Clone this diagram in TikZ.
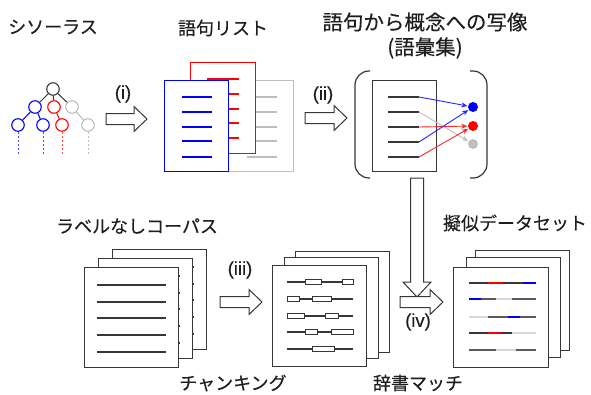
\documentclass[tikz,border=0pt]{standalone}
\usepackage{fontspec}
\setmainfont{Noto Sans CJK JP}[FakeBold=0.2]
\newfontfamily\lat{Liberation Sans}[FakeBold=0.2]
\usetikzlibrary{arrows.meta}
\definecolor{tblue}{RGB}{0,0,255}
\definecolor{tred}{RGB}{255,0,0}
\definecolor{tgray}{RGB}{190,190,190}
\definecolor{dgray}{RGB}{55,55,55}
\definecolor{mgray}{RGB}{90,90,90}
\definecolor{lgray}{RGB}{215,215,215}
\definecolor{txt}{RGB}{30,30,30}
\tikzset{
  lbl/.style={font=\fontsize{18}{22}\selectfont, text=txt, inner sep=0},
  big/.style={font=\fontsize{20.5}{24}\selectfont},
  latl/.style={font=\lat\fontsize{18.5}{22}\selectfont},
  page/.style={draw=dgray, fill=white, line width=1pt},
  txtline/.style={draw=dgray, line width=1.1pt},
  chunk/.style={draw=dgray, fill=white, line width=0.9pt},
  blk/.style={draw=dgray, fill=white, line width=1pt, line join=miter},
  tn/.style={circle, draw, fill=white, line width=1.1pt, minimum size=12.5pt, inner sep=0},
  dot/.style={circle, minimum size=10pt, inner sep=0},
  seg/.style={line width=1.2pt},
  mapar/.style={line width=0.9pt, -{Stealth[length=6pt,width=5pt]}, shorten >=0.5pt},
}
\newcommand\rblk[3]{\draw[blk] (#1,#2-5.5) -- (#1+#3-13,#2-5.5) -- (#1+#3-13,#2-12.5) -- (#1+#3,#2) -- (#1+#3-13,#2+12.5) -- (#1+#3-13,#2+5.5) -- (#1,#2+5.5) -- cycle;}
\newcommand\corpuspage[2]{\begin{scope}[shift={(#1,#2)}]
  \draw[page] (0,0) rectangle (94,100);
  \foreach \yy in {18,35,51,68,85} \draw[txtline] (13,\yy) -- (82,\yy);
\end{scope}}
\newcommand\chunkpage[2]{\begin{scope}[shift={(#1,#2)}]
  \draw[page] (0,0) rectangle (94,101);
  \foreach \yy in {17,34,51,67,84} \draw[txtline] (15,\yy) -- (81,\yy);
  \foreach \yy/\a/\b in {17/33/49, 17/70/81, 34/15/27, 34/40/59, 51/15/32, 51/53/66, 67/33/45, 67/59/81, 84/40/62}
    \draw[chunk] (\a,\yy-2.5) rectangle (\b,\yy+2.5);
\end{scope}}
\begin{document}
\begin{tikzpicture}[x=1pt, y=-1pt]
\useasboundingbox (0,0) rectangle (591,394);
\fill[white] (0,0) rectangle (591,394);

% ---------- titles ----------
\node[lbl, anchor=west] (tthes) at (8,27) {シソーラス};
\node[lbl] (tlist) at (223,28) {語句リスト};
\node[lbl, big] (tmap) at (425,22) {語句から概念への写像};
\node[lbl, big] (tmap2) at (425,48) {(語彙集)};
\node[lbl] (tcorp) at (137,226) {ラベルなしコーパス};
\node[lbl] (tpseudo) at (515,223) {擬似データセット};
\node[lbl] (tchunk) at (233,383) {チャンキング};
\node[lbl] (tdict) at (418,383) {辞書マッチ};
\node[lbl, latl] (li) at (123,94) {(i)};
\node[lbl, latl] (lii) at (323,95) {(ii)};
\node[lbl, latl] (liii) at (240,270) {(iii)};
\node[lbl, latl] (liv) at (418,322) {(iv)};

% ---------- thesaurus tree ----------
\node[tn, draw=dgray] (root) at (53,89) {};
\node[tn, draw=tblue] (b1) at (35,107) {};
\node[tn, draw=tred] (r1) at (54,107) {};
\node[tn, draw=tgray] (g1) at (72,107) {};
\node[tn, draw=tblue] (b2) at (18,125) {};
\node[tn, draw=tblue] (b3) at (43,125) {};
\node[tn, draw=tred] (r2) at (62,125) {};
\node[tn, draw=tgray] (g2) at (88,125) {};
\draw[dgray, line width=1pt] (root) -- (b1);
\draw[dgray, line width=1pt] (root) -- (r1);
\draw[dgray, line width=1pt] (root) -- (g1);
\draw[tblue, line width=1pt] (b1) -- (b2);
\draw[tblue, line width=1pt] (b1) -- (b3);
\draw[tred, line width=1pt] (r1) -- (r2);
\draw[tgray, line width=1pt] (g1) -- (g2);
\draw[tblue!70, line width=0.8pt, dash pattern=on 2pt off 2pt] (b2.south) -- ++(0,22);
\draw[tblue!70, line width=0.8pt, dash pattern=on 2pt off 2pt] (b3.south) -- ++(0,22);
\draw[tred!70, line width=0.8pt, dash pattern=on 2pt off 2pt] (r2.south) -- ++(0,22);
\draw[tgray, line width=0.8pt, dash pattern=on 2pt off 2pt] (g2.south) -- ++(0,22);

% ---------- block arrows ----------
\rblk{106}{119}{41}
\rblk{305}{118}{42}
\rblk{220}{302}{42}

% ---------- word lists ----------
\draw[page, draw=tgray] (228,80) rectangle ++(65,91);
\foreach \yy in {17,32,47,61,77} \draw[tgray, line width=1.1pt] (247,80+\yy) -- (277,80+\yy);
\draw[page, draw=tred] (190,62) rectangle ++(65,91);
\foreach \yy in {17,32,47,61,76} \draw[tred, line width=1.1pt] (207,62+\yy) -- (239,62+\yy);
\draw[page, draw=tblue] (164,80) rectangle ++(64,91);
\foreach \yy in {17,32,47,61,77} \draw[tblue, line width=1.1pt] (182,80+\yy) -- (212,80+\yy);

% ---------- mapping ----------
\draw[dgray, line width=1.2pt, rounded corners=14pt] (370,71) -- (355,71) -- (355,178) -- (370,178);
\draw[dgray, line width=1.2pt, rounded corners=14pt] (470,71) -- (487,71) -- (487,178) -- (470,178);
\draw[page] (372,80) rectangle (436,171);
\foreach \yy [count=\i] in {97,112,127,142,157} {
  \draw[txtline] (388,\yy) -- (419,\yy);
  \coordinate (l\i) at (419,\yy);
}
\node[dot, fill=tblue] (db) at (473,107) {};
\node[dot, fill=tred] (dr) at (473,126) {};
\node[dot, fill=tgray] (dg) at (473,144) {};
\draw[mapar, tgray] (l2) -- (dg);
\draw[mapar, tred!85] (l3) -- (dr);
\draw[mapar, tred!85] (l5) -- (dr);
\draw[mapar, tblue!85] (l1) -- (db);
\draw[mapar, tblue!85] (l4) -- (db);

% ---------- down arrow and (iv) ----------
\draw[blk] (410.5,178) -- (410.5,282) -- (403,282) -- (417,297) -- (431,282) -- (423.5,282) -- (423.5,178) -- cycle;
\rblk{400}{302}{43}

% ---------- corpus ----------
\corpuspage{112}{249}
\corpuspage{98}{258}
\corpuspage{84}{267}

% ---------- chunked ----------
\chunkpage{295}{251}
\chunkpage{284}{257}
\chunkpage{272}{265}

% ---------- pseudo dataset ----------
\draw[page] (475,250) rectangle ++(94,100);
\draw[page] (466,257) rectangle ++(94,100);
\begin{scope}[shift={(453,267)}]
  \draw[page] (0,0) rectangle (95,100);
  \foreach \yy/\a/\b/\c in {
    16/16/35/dgray, 16/35/50/tred, 16/50/70/dgray, 16/70/83/tblue,
    32/16/28/tblue, 32/28/43/mgray, 32/43/59/lgray, 32/59/83/mgray,
    50/16/35/lgray, 50/35/55/mgray, 50/55/67/tblue, 50/67/83/mgray,
    66/16/35/dgray, 66/35/48/tred, 66/48/59/dgray, 66/59/83/lgray,
    83/16/43/mgray, 83/43/63/lgray, 83/63/83/mgray}
    \draw[seg, \c] (\a,\yy) -- (\b,\yy);
\end{scope}
\end{tikzpicture}
\end{document}
